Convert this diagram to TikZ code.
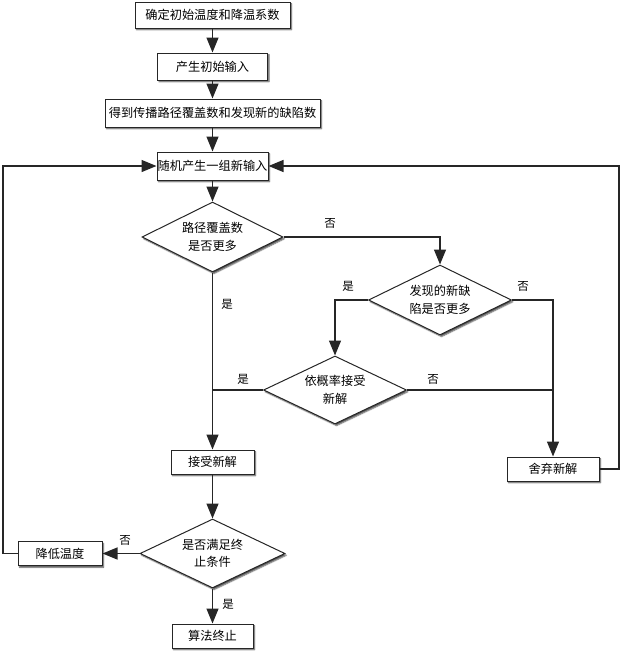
\documentclass[tikz,border=0pt]{standalone}
\usepackage{fontspec}
\setmainfont{Noto Sans CJK SC}
\usetikzlibrary{arrows.meta,shapes.geometric,shadows.blur}
\tikzset{
  base/.style={draw=black!85, line width=1pt, fill=white, font=\fontsize{12.2}{17.5}\selectfont, inner sep=0pt,
    blur shadow={shadow xshift=1.5pt, shadow yshift=-1.8pt, shadow blur steps=4, shadow blur radius=1.2pt, shadow opacity=70}},
  procbox/.style={base, rectangle, align=center},
  decis/.style={base, diamond, aspect=2, align=center},
  conn/.style={draw=black!85, line width=1.3pt},
  arr/.style={conn, -{Triangle[length=15pt,width=12pt]}},
  lbl/.style={font=\fontsize{11.5}{13}\selectfont, inner sep=0pt}
}
\begin{document}
\begin{tikzpicture}[x=1pt,y=-1pt]
\useasboundingbox (0,0) rectangle (623,651);
\node[procbox, minimum width=155pt, minimum height=26pt] (b1) at (212.5,15) {确定初始温度和降温系数};
\node[procbox, minimum width=110pt, minimum height=27pt] (b2) at (212.5,66.5) {产生初始输入};
\node[procbox, minimum width=215pt, minimum height=28pt] (b3) at (212.5,113) {得到传播路径覆盖数和发现新的缺陷数};
\node[procbox, minimum width=111pt, minimum height=28pt] (b4) at (212.5,166) {随机产生一组新输入};
\node[decis, minimum width=141pt, minimum height=70pt] (d1) at (212.5,237) {路径覆盖数\\是否更多};
\node[decis, minimum width=143pt, minimum height=70pt] (d2) at (440,300) {发现的新缺\\陷是否更多};
\node[decis, minimum width=143pt, minimum height=68pt] (d3) at (335,390) {依概率接受\\新解};
\node[procbox, minimum width=83pt, minimum height=24pt] (acc) at (212.5,462) {接受新解};
\node[procbox, minimum width=92pt, minimum height=24pt] (rej) at (553,469) {舍弃新解};
\node[decis, minimum width=145pt, minimum height=69pt] (d4) at (212.5,553.5) {是否满足终\\止条件};
\node[procbox, minimum width=84pt, minimum height=24pt] (low) at (60,553.5) {降低温度};
\node[procbox, minimum width=81pt, minimum height=24pt] (end) at (212.5,636) {算法终止};
\coordinate (rx) at (619,0);
\coordinate (lx) at (3,0);

\draw[arr] (b1) -- (b2);
\draw[arr] (b2) -- (b3);
\draw[arr] (b3) -- (b4);
\draw[arr] (b4) -- (d1);
\draw[arr] (d1.east) -- (d2.north |- d1.east) -- (d2.north);
\draw[arr] (d2.west) -- (d3.north |- d2.west) -- (d3.north);
\draw[arr] (d2.east) -- (rej.north |- d2.east) -- (rej.north);
\draw[conn] (d3.west) -- (acc.north |- d3.west);
\draw[conn] (d3.east) -- (rej.north |- d3.east);
\draw[arr] (d1.south) -- (acc.north);
\draw[arr] (rej.east) -- (rx |- rej.east) -- (rx |- b4.east) -- (b4.east);
\draw[arr] (acc) -- (d4);
\draw[arr] (d4.west) -- (low.east);
\draw[arr] (d4.south) -- (end.north);
\draw[arr] (low.west) -- (lx |- low.west) -- (lx |- b4.west) -- (b4.west);

\node[lbl] (l1) at (330,223) {否};
\node[lbl] (l2) at (348,286) {是};
\node[lbl] (l3) at (523,286) {否};
\node[lbl] (l4) at (243,379) {是};
\node[lbl] (l5) at (433,379) {否};
\node[lbl] (l6) at (227,304) {是};
\node[lbl] (l7) at (125,540) {否};
\node[lbl] (l8) at (228,604) {是};
\end{tikzpicture}
\end{document}
